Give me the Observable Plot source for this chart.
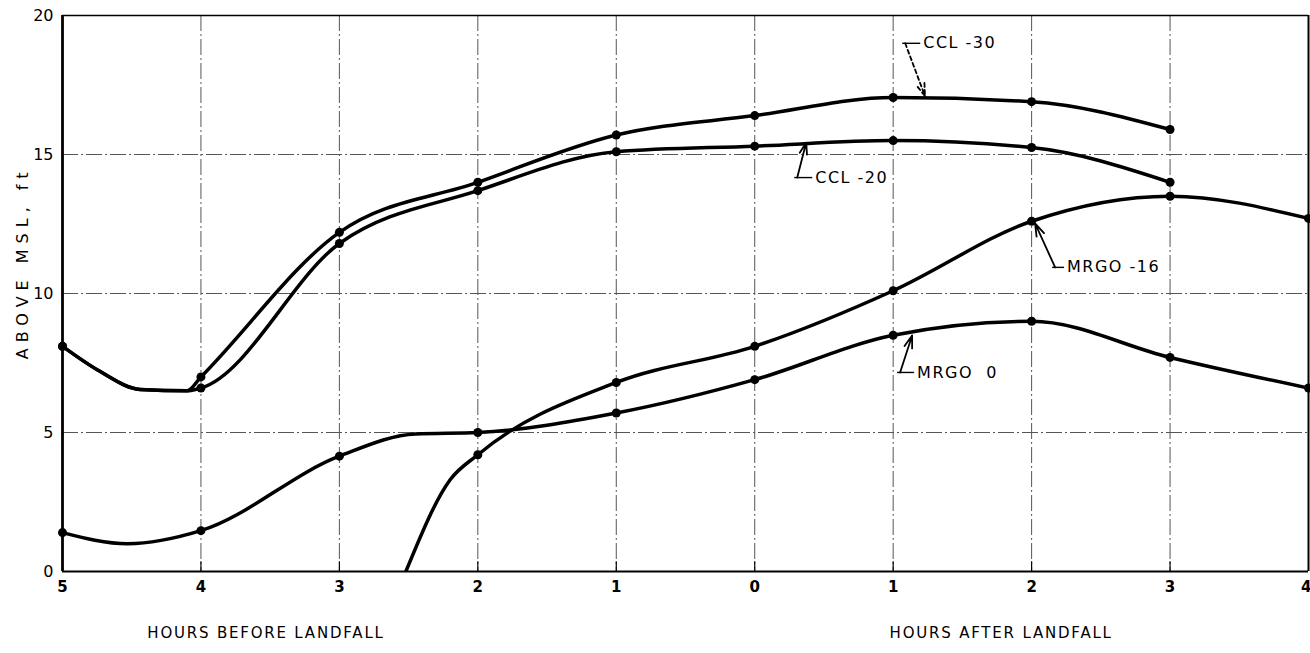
<!DOCTYPE html>
<html><head><meta charset="utf-8">
<script src="https://cdn.jsdelivr.net/npm/d3@7"></script>
<script src="https://cdn.jsdelivr.net/npm/@observablehq/plot@0.6"></script>
<style>body{margin:0;background:#fff}#chart{position:absolute;left:0;top:0}</style>
</head><body><div id="chart"></div>
<script>
// ---- data ----
const hourTicks = [-5,-4,-3,-2,-1,0,1,2,3,4];
const hourLabels = ["5","4","3","2","1","0","1","2","3","4"];
const ftTicks = [0,5,10,15,20];
const gridHours = [-4,-3,-2,-1,0,1,2,3];
const gridFt = [5,10,15];

const ccl30Hours = [-5,-4.73,-4.44,-4.1,-4,-3,-2,-1,0,1,2,3];
const ccl30Ft    = [8.1,7.2,6.55,6.5,7.0,12.2,14.0,15.7,16.4,17.05,16.9,15.9];
const ccl20Hours = [-5,-4.73,-4.44,-4.1,-4,-3,-2,-1,0,1,2,3];
const ccl20Ft    = [8.1,7.2,6.55,6.5,6.6,11.8,13.7,15.1,15.3,15.5,15.25,14.0];
const mrgo16Hours = [-2.52,-2.2,-2,-1,0,1,2,3,4];
const mrgo16Ft    = [0,3.3,4.2,6.8,8.1,10.1,12.6,13.5,12.7];
const mrgo0Hours = [-5,-4.53,-4,-3,-2.45,-2,-1,0,1,2,3,4];
const mrgo0Ft    = [1.4,1.0,1.47,4.15,4.95,5.0,5.7,6.9,8.5,9.0,7.7,6.6];

const labelNames = ["CCL -30","CCL -20","MRGO -16","MRGO\u00a0\u00a00"];
const labelHour  = [1.217, 0.437, 2.256, 1.173];
const labelFt    = [19.0, 14.17, 10.94, 7.16];
const elbowHour  = [1.087, 0.307, 2.17, 1.05];
const tipHour    = [1.23, 0.372, 2.025, 1.137];
const tipFt      = [17.1, 15.43, 12.52, 8.49];
const leaderDash = ["4,3", null, null, null];

const yTitle = "ABOVE MSL, ft";
const xTitles = ["HOURS BEFORE LANDFALL","HOURS AFTER LANDFALL"];
const xTitleHour = [-3.53, 1.78];

// ---- build ----
const mk = (name, hs, vs) => hs.map((h,i)=>({name, h, v: vs[i]}));
const series = [
  mk("CCL -30", ccl30Hours, ccl30Ft),
  mk("CCL -20", ccl20Hours, ccl20Ft),
  mk("MRGO -16", mrgo16Hours, mrgo16Ft),
  mk("MRGO 0", mrgo0Hours, mrgo0Ft)
];
const dots = series.flat().filter(d => Number.isInteger(d.h));
const ann = labelNames.map((t,i)=>({t, lx:labelHour[i], ly:labelFt[i], ex:elbowHour[i], tx:tipHour[i], ty:tipFt[i], dash:leaderDash[i]}));
const tickData = hourTicks.map((h,i)=>({h, t:hourLabels[i], last: i === hourTicks.length-1}));

const font = "DejaVu Sans, sans-serif";
const marks = [
  Plot.gridX(gridHours, {stroke:"#555", strokeOpacity:1, strokeWidth:1, strokeDasharray:"16,3,2,3"}),
  Plot.gridY(gridFt, {stroke:"#555", strokeOpacity:1, strokeWidth:1, strokeDasharray:"16,3,2,3"}),
  Plot.ruleX(gridHours, {y1:0, y2:0.35, stroke:"black", strokeWidth:1.2}),
  Plot.ruleY([20], {stroke:"black", strokeWidth:1.6}),
  Plot.ruleX([4], {stroke:"black", strokeWidth:2}),
  Plot.ruleY([0], {stroke:"black", strokeWidth:2}),
  Plot.ruleX([-5], {stroke:"black", strokeWidth:2.8}),
  ...series.map(s => Plot.line(s, {x:"h", y:"v", curve:"monotone-x", stroke:"black", strokeWidth:3.5, clip:true})),
  Plot.dot(dots, {x:"h", y:"v", r:4.5, fill:"black"}),
  Plot.link(ann, {x1:"ex", y1:"ly", x2:"lx", y2:"ly", stroke:"black", strokeWidth:1.4, dx:-3}),
  ...ann.map(a => Plot.arrow([a], {x1:"ex", y1:"ly", x2:"tx", y2:"ty", stroke:"black", strokeWidth:1.8, headLength:11, headAngle:36, strokeDasharray:a.dash || undefined})),
  Plot.text(ann, {x:"lx", y:"ly", text:"t", textAnchor:"start", fontSize:16, fill:"black"}),
  Plot.text(tickData.filter(d=>!d.last), {x:"h", text:"t", frameAnchor:"bottom", dy:20, fontSize:15, fontWeight:"bold"}),
  Plot.text(tickData.filter(d=>d.last), {x:"h", text:"t", frameAnchor:"bottom", dy:20, fontSize:15, fontWeight:"bold", textAnchor:"end", dx:3}),
  Plot.axisY(ftTicks, {tickSize:0, tickPadding:9, fontSize:16, label:null}),
  Plot.text([yTitle], {text:d=>d, frameAnchor:"left", textAnchor:"middle", dx:-40, y:[11.1], rotate:-90, fontSize:16}),
  Plot.text(xTitles, {text:d=>d, x:(d,i)=>xTitleHour[i], frameAnchor:"bottom", textAnchor:"middle", dy:66, fontSize:15})
];

const chart = Plot.plot({
  width:1310, height:653,
  marginLeft:62, marginRight:2, marginTop:15, marginBottom:82,
  x:{domain:[-5,4], axis:null}, y:{domain:[0,20]},
  style:{fontFamily:font, background:"white", color:"black"},
  marks
});
// letter spacing for the hand-lettered look
const spacing = new Map([[yTitle,"6px"],[xTitles[0],"1.8px"],[xTitles[1],"1.8px"]]);
labelNames.forEach(n => spacing.set(n, "1.5px"));
d3.select(chart).selectAll("text").each(function(){
  const s = spacing.get(this.textContent);
  if (s) this.setAttribute("letter-spacing", s);
});
document.getElementById("chart").appendChild(chart);
</script>
</body></html>
